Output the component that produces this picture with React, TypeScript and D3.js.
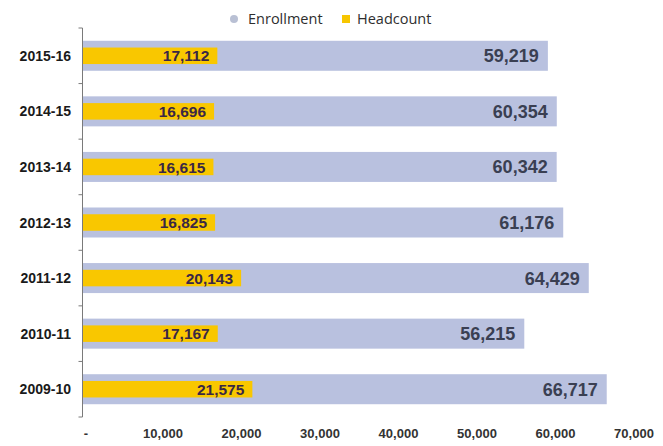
import React from "react";
import * as d3 from "d3";

const years = ["2015-16", "2014-15", "2013-14", "2012-13", "2011-12", "2010-11", "2009-10"];
const enrollment = [59219, 60354, 60342, 61176, 64429, 56215, 66717];
const headcount = [17112, 16696, 16615, 16825, 20143, 17167, 21575];
const xTicks = [0, 10000, 20000, 30000, 40000, 50000, 60000, 70000];

const W = 663;
const H = 446;
const FONT = "'Liberation Sans', Arial, Helvetica, sans-serif";

export default function App() {
  const x = d3.scaleLinear().domain([0, 70000]).range([83, 632.5]);
  const y = d3.scaleBand<string>().domain(years).range([28, 417]).paddingInner(0.46).paddingOuter(0.23);
  const bw = y.bandwidth();
  const hh = 16.5;
  const fmt = d3.format(",");
  const boundaries = d3.range(years.length + 1).map((i) => 28 + i * ((417 - 28) / years.length));

  return (
    <div style={{ position: "absolute", left: 0, top: 0 }}>
      <svg width={W} height={H} style={{ display: "block", background: "#fff" }}>
        {/* legend */}
        <circle cx={234} cy={19} r={4} fill="#b9c0d4" />
        <text x={248} y={23.5} fontFamily="'Open Sans', sans-serif" fontSize={14.5} fill="#2e2e2e">Enrollment</text>
        <rect x={342} y={15} width={8} height={8} fill="#f7c600" />
        <text x={357} y={23.5} fontFamily="'Open Sans', sans-serif" fontSize={14.5} fill="#2e2e2e">Headcount</text>

        {years.map((yr, i) => {
          const yb = y(yr) as number;
          const cy = yb + bw / 2;
          return (
            <g key={yr}>
              <rect x={x(0)} y={yb} width={x(enrollment[i]) - x(0)} height={bw} fill="#b9c1df" />
              <rect x={x(0)} y={cy - hh / 2} width={x(headcount[i]) - x(0)} height={hh} fill="#f9c700" />
              <text x={x(headcount[i]) - 8} y={cy} dy="0.36em" textAnchor="end" fontFamily={FONT} fontWeight="bold" fontSize={15.5} fill="#3a2745">
                {fmt(headcount[i])}
              </text>
              <text x={x(enrollment[i]) - 9} y={cy} dy="0.36em" textAnchor="end" fontFamily={FONT} fontWeight="bold" fontSize={18} fill="#3a3f52">
                {fmt(enrollment[i])}
              </text>
              <text x={71} y={cy} dy="0.36em" textAnchor="end" fontFamily={FONT} fontWeight="bold" fontSize={14} fill="#1a1a1a">
                {yr}
              </text>
            </g>
          );
        })}

        {/* axis */}
        <line x1={82.5} x2={82.5} y1={28} y2={417} stroke="#7a7a7a" strokeWidth={1} />
        {boundaries.map((b, i) => (
          <line key={i} x1={78.5} x2={82.5} y1={b} y2={b} stroke="#7a7a7a" strokeWidth={1} />
        ))}

        {xTicks.map((t) => (
          <text key={t} x={t === 0 ? x(t) + 3 : x(t) + 1.5} y={437.5} textAnchor="middle" fontFamily={FONT} fontWeight="bold" fontSize={13} fill="#333">
            {t === 0 ? "-" : fmt(t)}
          </text>
        ))}
      </svg>
    </div>
  );
}
